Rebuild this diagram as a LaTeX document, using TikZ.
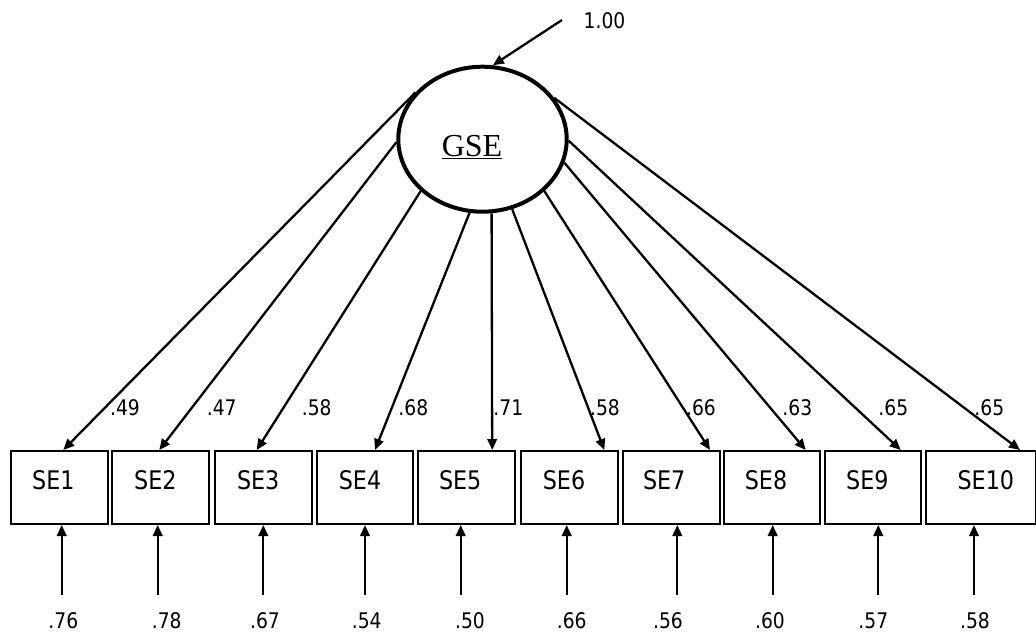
\documentclass[tikz,border=0pt]{standalone}
\usepackage{fontspec}
\setmainfont{Liberation Serif}
\newfontfamily\tah[FakeStretch=0.87]{DejaVu Sans}
\usetikzlibrary{shapes.geometric,arrows.meta}
\begin{document}
\begin{tikzpicture}[x=1pt,y=-1pt,
  conn/.style={line width=2.3pt,-{Triangle[length=11pt,width=9.5pt]}},
  box/.style={draw,line width=2pt,minimum width=96.7pt,minimum height=73pt,inner sep=0pt},
  lbl/.style={font=\tah\fontsize{25.6}{30}\selectfont,inner sep=0pt},
  num/.style={font=\tah\fontsize{21.5}{25}\selectfont,inner sep=0pt},
  latent/.style={ellipse,draw,line width=4pt,minimum width=168.4pt,minimum height=145pt,inner sep=0pt}]
\useasboundingbox (0,0) rectangle (1036,632);
% latent variable
\node[latent] (GSE) at (482.5,139.2) {};
\node[font=\fontsize{32}{38}\selectfont,anchor=base,inner sep=0pt] (gsetext) at (472,156.7) {\underline{GSE}};
% variance of latent
\coordinate (ztop) at (562,20);
\draw[conn] (ztop) -- (GSE.82);
\node[num] (v) at (604.5,21) {1.00};
% observed boxes
\foreach \i/\cx/\w/\dx in {1/59.3/96.7/-6, 2/160.3/96.7/-5, 3/263.7/96.7/-5.5, 4/365/96.7/-5, 5/466.2/96.7/-6,
  6/569.7/96.7/-5.7, 7/671.2/96.7/-7, 8/772/96.7/-6, 9/873/96.7/-5.7, 10/980.8/109.7/5}
  \node[box,minimum width=\w pt,label={[lbl,xshift=\dx pt,yshift=7.5pt]center:SE\i}] (SE\i) at (\cx,487.5) {};
% loadings
\foreach \i/\a/\off in {1/145/4, 2/182/-1, 3/220/-7, 4/260/10, 5/277/26, 6/293/34.6, 7/320/38.8, 8/344/33.7, 9/359/27.7, 10/30/39.2}
  \draw[conn] (GSE.\a) -- ([xshift=\off pt]SE\i.north);
\foreach \i/\x/\t in {1/125/.49, 2/221.7/.47, 3/316.7/.58, 4/413.3/.68, 5/508.3/.71, 6/605/.58, 7/701/.66, 8/797.3/.63, 9/893.3/.65, 10/989.3/.65}
  \node[num] (l\i) at (\x,407.5) {\t};
% error terms
\foreach \i/\x/\rx/\t in {1/61.7/63.3/.76, 2/157.7/166.7/.78, 3/263.3/265/.67, 4/365/366.7/.54, 5/460.7/470/.50,
  6/566.7/571.7/.66, 7/677.3/668/.56, 8/772.7/770/.60, 9/878.3/873.3/.57, 10/974/975/.58}
{
  \coordinate (e\i) at (\x,595);
  \draw[conn] (e\i) -- (SE\i.south -| e\i);
  \node[num] (r\i) at (\rx,621) {\t};
}
\end{tikzpicture}
\end{document}
